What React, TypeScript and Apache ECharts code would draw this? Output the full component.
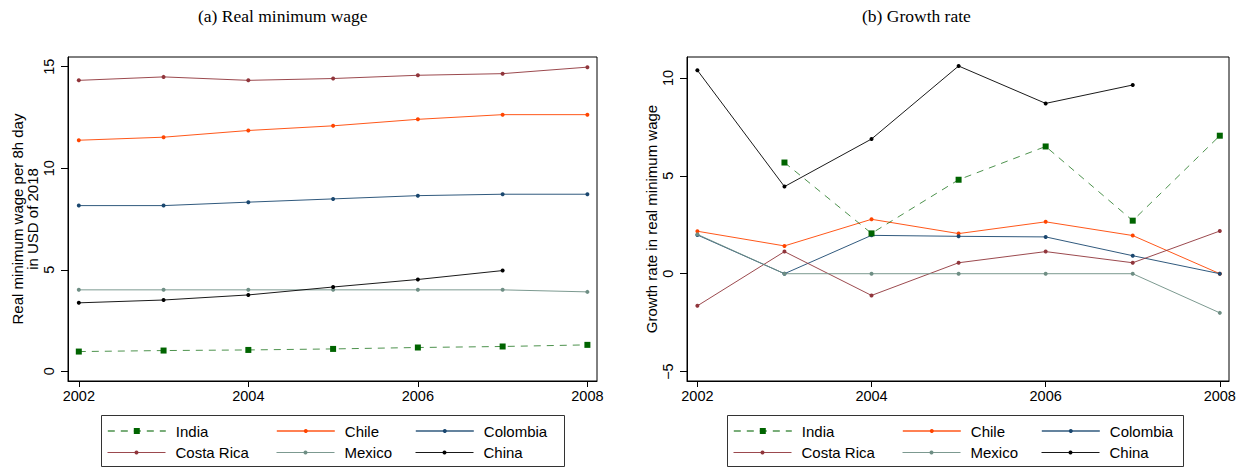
import React, { useEffect, useRef } from "react";
import * as echarts from "echarts";

const years = [2002, 2003, 2004, 2005, 2006, 2007, 2008];
const countries = ["India", "Chile", "Colombia", "Costa Rica", "Mexico", "China"];

// (a) Real minimum wage per 8h day, USD of 2018
const levelIndia = [0.97, 1.02, 1.05, 1.1, 1.17, 1.22, 1.3];
const levelChile = [11.38, 11.53, 11.86, 12.09, 12.41, 12.64, 12.64];
const levelColombia = [8.16, 8.16, 8.33, 8.49, 8.65, 8.72, 8.72];
const levelCostaRica = [14.33, 14.5, 14.33, 14.42, 14.58, 14.66, 14.98];
const levelMexico = [4.01, 4.01, 4.01, 4.01, 4.01, 4.01, 3.91];
const levelChina = [3.37, 3.51, 3.76, 4.15, 4.52, 4.96, null];

// (b) Growth rate in real minimum wage
const growthIndia = [null, 5.68, 2.06, 4.8, 6.5, 2.71, 7.05];
const growthChile = [2.17, 1.42, 2.78, 2.05, 2.65, 1.95, 0];
const growthColombia = [1.98, 0, 1.96, 1.91, 1.88, 0.92, 0];
const growthCostaRica = [-1.64, 1.13, -1.11, 0.56, 1.13, 0.56, 2.18];
const growthMexico = [2.01, 0, 0, 0, 0, 0, -2.0];
const growthChina = [10.39, 4.45, 6.88, 10.61, 8.7, 9.64, null];

const xTicks = [2002, 2004, 2006, 2008];
const yTicksLevel = [0, 5, 10, 15];
const yTicksGrowth = [-5, 0, 5, 10];

const titleA = "(a) Real minimum wage";
const titleB = "(b) Growth rate";

const colors: Record<string, string> = {
  India: "#006400",
  Chile: "#ff4500",
  Colombia: "#1a476f",
  "Costa Rica": "#90353b",
  Mexico: "#6e8e84",
  China: "#000000",
};

const levelData: Record<string, (number | null)[]> = {
  India: levelIndia,
  Chile: levelChile,
  Colombia: levelColombia,
  "Costa Rica": levelCostaRica,
  Mexico: levelMexico,
  China: levelChina,
};
const growthData: Record<string, (number | null)[]> = {
  India: growthIndia,
  Chile: growthChile,
  Colombia: growthColombia,
  "Costa Rica": growthCostaRica,
  Mexico: growthMexico,
  China: growthChina,
};

const SANS = "'Liberation Sans', Arial, sans-serif";
const SERIF = "'Liberation Serif', 'Times New Roman', serif";

function pairs(vals: (number | null)[]) {
  return years
    .map((y, i) => [y, vals[i]])
    .filter((p) => p[1] !== null && p[1] !== undefined);
}

function makeSeries(name: string, vals: (number | null)[], idx: number) {
  const isIndia = name === "India";
  return {
    type: "line",
    name,
    xAxisIndex: idx,
    yAxisIndex: idx,
    data: pairs(vals),
    symbol: isIndia ? "rect" : "circle",
    symbolSize: isIndia ? 6 : 4,
    showSymbol: true,
    itemStyle: { color: colors[name] },
    lineStyle: {
      color: colors[name],
      width: 1,
      type: isIndia ? [7, 6] : "solid",
      opacity: isIndia ? 0.7 : 0.9,
    },
    emphasis: { disabled: true },
    z: isIndia ? 3 : 2,
  };
}

function xAxis(gridIndex: number, min: number, max: number) {
  return {
    type: "value",
    gridIndex,
    min,
    max,
    axisLine: { show: true, onZero: false, lineStyle: { color: "#000", width: 1 } },
    axisTick: {
      show: true,
      customValues: xTicks,
      length: 6,
      lineStyle: { color: "#000" },
    },
    axisLabel: {
      customValues: xTicks,
      color: "#000",
      fontFamily: SANS,
      fontSize: 14.5,
      margin: 7,
      formatter: (v: number) => String(v),
    },
    splitLine: { show: false },
  };
}

function yAxis(gridIndex: number, min: number, max: number, ticks: number[], name: string, nameGap: number) {
  return {
    type: "value",
    gridIndex,
    min,
    max,
    name,
    nameLocation: "middle",
    nameRotate: 90,
    nameGap,
    nameTextStyle: {
      color: "#000",
      fontFamily: SANS,
      fontSize: 15,
      lineHeight: 15,
    },
    axisLine: { show: true, onZero: false, lineStyle: { color: "#000", width: 1 } },
    axisTick: {
      show: true,
      customValues: ticks,
      length: 7,
      lineStyle: { color: "#000" },
    },
    axisLabel: {
      customValues: ticks,
      rotate: 90,
      color: "#000",
      fontFamily: SANS,
      fontSize: 14.5,
      margin: 12,
      formatter: (v: number) => String(v).replace("-", "\u2212"),
    },
    splitLine: { show: false },
  };
}

// legend layout slots (column x of line start, row top)
const legendCols = [
  [107, 276, 415],
  [733, 902, 1041],
];
const legendRows = [423.5, 445];

function makeLegends() {
  const out: any[] = [];
  legendCols.forEach((cols) => {
    countries.forEach((name, i) => {
      const col = i % 3;
      const row = Math.floor(i / 3);
      const isIndia = name === "India";
      out.push({
        data: [name],
        left: cols[col],
        top: legendRows[row],
        orient: "horizontal",
        padding: 0,
        itemWidth: 58,
        itemHeight: isIndia ? 7.5 : 5,
        selectedMode: false,
        lineStyle: { width: row === 0 ? 1.6 : 1 },
        textStyle: {
          color: "#000",
          fontFamily: SANS,
          fontSize: 15,
          padding: [0, 0, 0, 5],
        },
      });
    });
  });
  return out;
}

export default function App() {
  const ref = useRef<HTMLDivElement>(null);
  useEffect(() => {
    if (!ref.current) return;
    const chart = echarts.init(ref.current, null, { renderer: "svg" });
    const series: any[] = [];
    countries.forEach((c) => series.push(makeSeries(c, levelData[c], 0)));
    countries.forEach((c) => series.push(makeSeries(c, growthData[c], 1)));
    chart.setOption({
      animation: false,
      backgroundColor: "#ffffff",
      grid: [
        { left: 68, top: 57, width: 529, height: 324, show: true, borderColor: "#000", borderWidth: 1, containLabel: false },
        { left: 687, top: 57, width: 542, height: 324, show: true, borderColor: "#000", borderWidth: 1, containLabel: false },
      ],
      xAxis: [xAxis(0, 2001.8725, 2008.1133), xAxis(1, 2001.8806, 2008.1057)],
      yAxis: [
        yAxis(0, -0.48, 15.48, yTicksLevel, "Real minimum wage per 8h day\nin USD of 2018", 25),
        yAxis(1, -5.48, 11.07, yTicksGrowth, "Growth rate in real minimum wage", 25),
      ],
      legend: makeLegends(),
      graphic: [
        {
          type: "text",
          x: 198,
          y: 16,
          silent: true,
          style: {
            text: titleA,
            align: "left",
            verticalAlign: "middle",
            fontFamily: SERIF,
            fontSize: 17.5,
            fill: "#000",
          },
        },
        {
          type: "text",
          x: 862,
          y: 16,
          silent: true,
          style: {
            text: titleB,
            align: "left",
            verticalAlign: "middle",
            fontFamily: SERIF,
            fontSize: 17.5,
            fill: "#000",
          },
        },
        {
          type: "rect",
          shape: { x: 101.5, y: 415.5, width: 463, height: 51 },
          style: { fill: "none", stroke: "#333", lineWidth: 1 },
          silent: true,
        },
        {
          type: "rect",
          shape: { x: 727.5, y: 415.5, width: 456, height: 51 },
          style: { fill: "none", stroke: "#333", lineWidth: 1 },
          silent: true,
        },
      ],
      series,
    });
    return () => chart.dispose();
  }, []);
  return (
    <div
      ref={ref}
      style={{ position: "fixed", left: 0, top: 0, width: 1242, height: 468, background: "#fff" }}
    />
  );
}
